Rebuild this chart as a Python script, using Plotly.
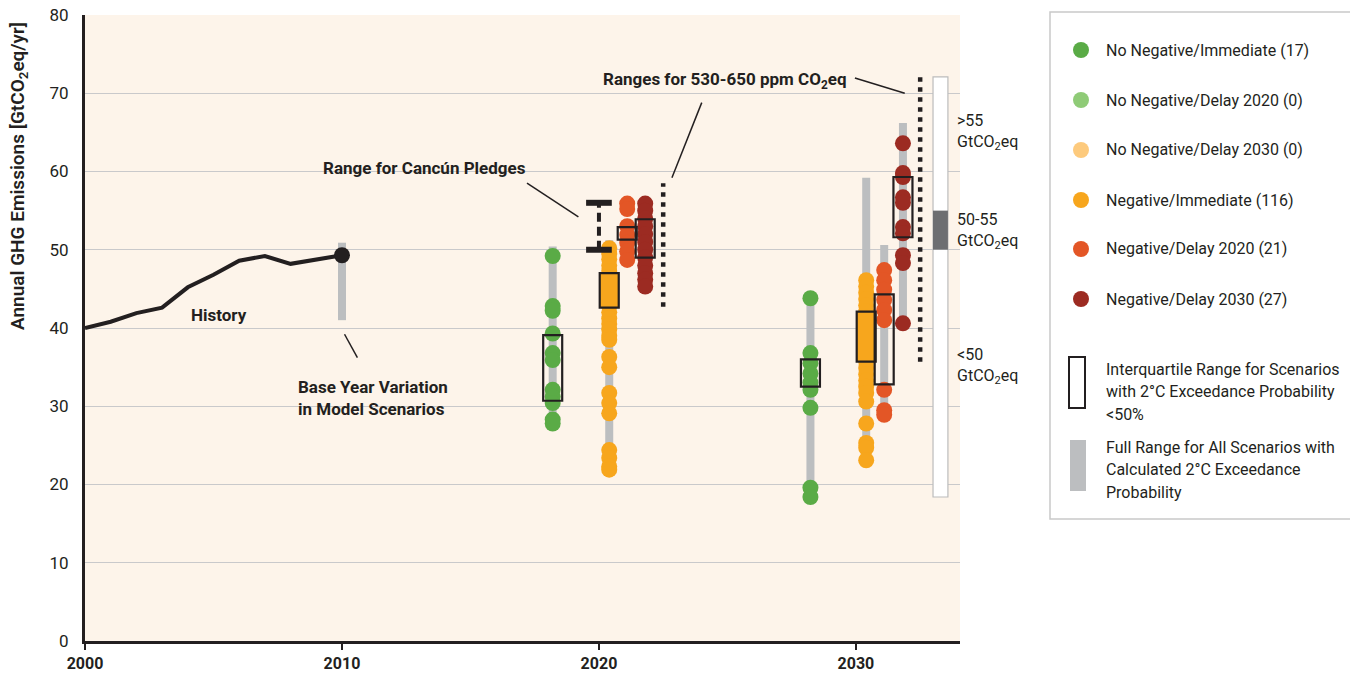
import plotly.graph_objects as go

# ---------------- data ----------------
hist_years = [2000, 2001, 2002, 2003, 2004, 2005, 2006, 2007, 2008, 2009, 2010]
hist_vals = [40.0, 40.8, 41.9, 42.6, 45.2, 46.8, 48.6, 49.2, 48.2, 48.7, 49.3]

base_year = 2010
base_range = [41.0, 50.9]

# group positions (years) for 2020 and 2030 clusters
g20_x = {"ni": 2018.2, "neg": 2020.4, "d20": 2021.1, "d30": 2021.8}
g30_x = {"ni": 2028.23, "neg": 2030.4, "d20": 2031.1, "d30": 2031.83}

# 2020 scenario values
g20_ni = [49.2, 42.8, 42.2, 39.3, 36.8, 35.9, 32.1, 31.2, 30.4, 28.3, 27.8]
g20_neg = [50.2, 49.5, 48.8, 48.0, 47.3, 46.5, 45.8, 45.0, 44.3, 43.6, 42.8, 42.0,
           41.2, 40.5, 39.8, 39.0, 38.5, 36.3, 35.0, 31.7, 30.4, 29.1, 24.4, 23.4,
           22.3, 21.9]
g20_d20 = [55.9, 55.2, 53.0, 51.9, 50.9, 49.8, 48.7]
g20_d30 = [55.9, 55.0, 54.0, 53.0, 52.0, 51.0, 50.0, 49.0, 48.0, 47.0, 46.2, 45.3]

# 2030 scenario values
g30_ni = [43.8, 36.8, 35.5, 34.2, 33.0, 32.1, 29.8, 19.6, 18.4]
g30_neg = [46.1, 45.3, 44.5, 43.7, 42.9, 42.1, 41.3, 40.5, 39.7, 38.9, 38.1, 37.3,
           36.5, 35.7, 34.9, 34.1, 33.3, 32.5, 31.7, 30.6, 27.8, 25.3, 24.7, 23.1]
g30_d20 = [47.4, 46.1, 44.9, 43.6, 42.3, 41.0, 32.1, 29.5, 28.9]
g30_d30 = [63.6, 59.8, 59.3, 56.7, 56.0, 52.9, 52.1, 49.3, 48.3, 40.6]

# full ranges (gray bars)
g20_full = {"ni": [27.6, 50.4], "neg": [21.9, 51.2]}
g30_full = {"ni": [18.4, 44.0], "neg": [23.0, 59.2], "d20": [28.5, 50.6], "d30": [41.0, 66.2]}

# interquartile ranges (boxes)
g20_iqr = {"ni": [30.7, 39.1], "neg": [42.6, 47.0], "d20": [51.3, 52.9], "d30": [49.0, 53.9]}
g30_iqr = {"ni": [32.5, 36.0], "neg": [35.7, 42.1], "d20": [32.8, 44.3], "d30": [51.6, 59.3]}

cancun_x = 2020.0
cancun_range = [50.0, 56.0]

ppm_x = [2022.5, 2032.5]
ppm_range = [[42.7, 58.5], [35.7, 72.3]]

right_bar_x = [2033.0, 2033.58]
right_bar_range = [18.4, 72.1]
right_bar_mid = [50.0, 55.0]

legend_labels = ["No Negative/Immediate (17)", "No Negative/Delay 2020 (0)",
                 "No Negative/Delay 2030 (0)", "Negative/Immediate (116)",
                 "Negative/Delay 2020 (21)", "Negative/Delay 2030 (27)"]

# ---------------- styles ----------------
C = {"ni": "#5aab46", "nd20": "#8fcb77", "nd30": "#fdca7d", "neg": "#f7a61d",
     "d20": "#e35626", "d30": "#9c2b22"}
legend_colors = [C["ni"], C["nd20"], C["nd30"], C["neg"], C["d20"], C["d30"]]
GRAY = "#bcbec0"
INK = "#231f20"
BG = "#fdf4ea"
FONT = "Roboto, Open Sans, sans-serif"

# page has an 8px body margin: lay out in figure pixels = reference pixels - 8
OFF = 8
W, H = 1358 - OFF, 677 - OFF
L, R, T, B = 85 - OFF, 960 - OFF, 15 - OFF, 641 - OFF

fig = go.Figure()


def vbar(x, rng, width=8, color=GRAY):
    fig.add_trace(go.Scatter(x=[x, x], y=rng, mode="lines",
                             line=dict(color=color, width=width),
                             hoverinfo="skip", showlegend=False))


def dots(x, vals, color):
    fig.add_trace(go.Scatter(x=[x] * len(vals), y=vals, mode="markers",
                             marker=dict(color=color, size=16, line=dict(width=0)),
                             hoverinfo="skip", showlegend=False))


def box(x, rng, fill=None, hw=0.37):
    fig.add_shape(type="rect", x0=x - hw, x1=x + hw, y0=rng[0], y1=rng[1],
                  xref="x", yref="y", line=dict(color=INK, width=2.2),
                  fillcolor=fill if fill else "rgba(0,0,0,0)", layer="above")


# history
fig.add_trace(go.Scatter(x=hist_years, y=hist_vals, mode="lines",
                         line=dict(color=INK, width=4), hoverinfo="skip", showlegend=False))
vbar(base_year, base_range)
fig.add_trace(go.Scatter(x=[hist_years[-1]], y=[hist_vals[-1]], mode="markers",
                         marker=dict(color=INK, size=16), hoverinfo="skip", showlegend=False))

# gray full ranges
for k, rng in g20_full.items():
    vbar(g20_x[k], rng)
for k, rng in g30_full.items():
    vbar(g30_x[k], rng)

# dots
dots(g20_x["ni"], g20_ni, C["ni"])
dots(g20_x["neg"], g20_neg, C["neg"])
dots(g20_x["d20"], g20_d20, C["d20"])
dots(g20_x["d30"], g20_d30, C["d30"])
dots(g30_x["ni"], g30_ni, C["ni"])
dots(g30_x["neg"], g30_neg, C["neg"])
dots(g30_x["d20"], g30_d20, C["d20"])
dots(g30_x["d30"], g30_d30, C["d30"])

# boxes
for k, rng in g20_iqr.items():
    box(g20_x[k], rng, fill=C["neg"] if k == "neg" else None)
for k, rng in g30_iqr.items():
    box(g30_x[k], rng, fill=C["neg"] if k == "neg" else None)

# Cancun pledges
fig.add_trace(go.Scatter(x=[cancun_x, cancun_x], y=cancun_range, mode="lines",
                         line=dict(color=INK, width=4, dash="9px,5px"),
                         hoverinfo="skip", showlegend=False))
for yv in cancun_range:
    fig.add_trace(go.Scatter(x=[cancun_x - 0.5, cancun_x + 0.5], y=[yv, yv], mode="lines",
                             line=dict(color=INK, width=6), hoverinfo="skip", showlegend=False))

# 530-650 ppm dotted lines
for xv, rng in zip(ppm_x, ppm_range):
    fig.add_trace(go.Scatter(x=[xv, xv], y=rng, mode="lines",
                             line=dict(color=INK, width=4.5, dash="4.5px,5.5px"),
                             hoverinfo="skip", showlegend=False))

# right side bar
fig.add_shape(type="rect", x0=right_bar_x[0], x1=right_bar_x[1],
              y0=right_bar_range[0], y1=right_bar_range[1],
              line=dict(color="#bcbcbc", width=1.2), fillcolor="white", layer="above")
fig.add_shape(type="rect", x0=right_bar_x[0], x1=right_bar_x[1],
              y0=right_bar_mid[0], y1=right_bar_mid[1],
              line=dict(width=0), fillcolor="#6d6e71", layer="above")

# annotation leader lines
def seg(x0, y0, x1, y1):
    fig.add_shape(type="line", x0=x0, y0=y0, x1=x1, y1=y1, xref="x", yref="y",
                  line=dict(color=INK, width=1.5), layer="above")

seg(2010.1, 39.2, 2010.6, 36.2)
seg(2017.2, 58.5, 2019.2, 54.2)
seg(2029.96, 71.95, 2031.9, 70.0)
seg(2024.0, 68.8, 2022.84, 59.2)

bold = dict(family=FONT, size=17, color=INK, weight=700)
fig.add_annotation(x=2005.2, y=41.7, text="History", showarrow=False, font=bold)
fig.add_annotation(x=2011.2, y=31.1, text="Base Year Variation<br>in Model Scenarios",
                   showarrow=False, font=bold, align="left")
fig.add_annotation(x=2013.2, y=60.4, text="Range for Cancún Pledges",
                   showarrow=False, font=bold)
fig.add_annotation(x=2024.9, y=71.6, text="Ranges for 530-650 ppm CO<sub>2</sub>eq",
                   showarrow=False, font=bold)

reg = dict(family=FONT, size=16, color=INK)
for yv, t in [(65.0, "&gt;55"), (52.4, "50-55"), (35.1, "&lt;50")]:
    fig.add_annotation(x=2033.85, y=yv, xanchor="left", yanchor="middle",
                       text=t + "<br>GtCO<sub>2</sub>eq",
                       showarrow=False, font=reg, align="left")

# ---------------- legend & title (manual, pixel-placed in reference pixels) ----------------
def px(xp):
    return (xp - OFF - L) / (R - L)


def py(yp):
    return (B - (yp - OFF)) / (B - T)


fig.add_annotation(xref="paper", yref="paper", x=px(19), y=py(176), textangle=-90,
                   xanchor="center", yanchor="middle", borderpad=0,
                   text="Annual GHG Emissions [GtCO<sub>2</sub>eq/yr]", showarrow=False,
                   font=dict(family=FONT, size=19, color=INK, weight=600))

fig.add_shape(type="rect", xref="paper", yref="paper", x0=px(1050), x1=px(1356),
              y0=py(519), y1=py(12), line=dict(color="#c9c9c9", width=1.5), fillcolor="white")
item_y = [50, 100, 150, 200, 249, 299]
for yy, lab, col in zip(item_y, legend_labels, legend_colors):
    fig.add_shape(type="circle", xref="paper", yref="paper", xsizemode="pixel", ysizemode="pixel",
                  xanchor=px(1081), yanchor=py(yy), x0=-8, x1=8, y0=-8, y1=8,
                  line=dict(width=0), fillcolor=col)
    fig.add_annotation(xref="paper", yref="paper", x=px(1104), y=py(yy), xanchor="left",
                       yanchor="middle", text=lab, showarrow=False, font=reg)

fig.add_shape(type="rect", xref="paper", yref="paper", x0=px(1069), x1=px(1085),
              y0=py(408), y1=py(357), line=dict(color=INK, width=2), fillcolor="white")
for yy, t in [(369, "Interquartile Range for Scenarios"),
              (391, "with 2°C Exceedance Probability"), (414, "&lt;50%")]:
    fig.add_annotation(xref="paper", yref="paper", x=px(1104), y=py(yy), xanchor="left",
                       yanchor="middle", text=t, showarrow=False, font=reg)
fig.add_shape(type="rect", xref="paper", yref="paper", x0=px(1070), x1=px(1086),
              y0=py(491), y1=py(440), line=dict(width=0), fillcolor=GRAY)
for yy, t in [(447, "Full Range for All Scenarios with"),
              (469, "Calculated 2°C Exceedance"), (492, "Probability")]:
    fig.add_annotation(xref="paper", yref="paper", x=px(1104), y=py(yy), xanchor="left",
                       yanchor="middle", text=t, showarrow=False, font=reg)

# ---------------- layout ----------------
fig.update_layout(
    width=W, height=H,
    margin=dict(l=L, r=W - R, t=T, b=H - B, pad=0, autoexpand=False),
    paper_bgcolor="white", plot_bgcolor=BG,
    font=dict(family=FONT, size=16, color=INK),
    showlegend=False,
    xaxis=dict(range=[2000, 2034.05], tickvals=[2000, 2010, 2020, 2030],
               showgrid=False, zeroline=False, showline=True, linecolor=INK, linewidth=3,
               ticks="outside", ticklen=6, tickwidth=2, tickcolor=INK, automargin=False,
               ticklabeloverflow="allow",
               tickfont=dict(family=FONT, size=16, color=INK, weight=700)),
    yaxis=dict(range=[0, 80], tickvals=[0, 10, 20, 30, 40, 50, 60, 70, 80],
               showgrid=True, gridcolor="#c9c9cb", gridwidth=1.2, zeroline=False,
               showline=True, linecolor=INK, linewidth=3, ticks="", ticklabelstandoff=10,
               automargin=False, ticklabeloverflow="allow",
               tickfont=dict(family=FONT, size=17, color=INK)),
)

fig.write_html("out.html")
